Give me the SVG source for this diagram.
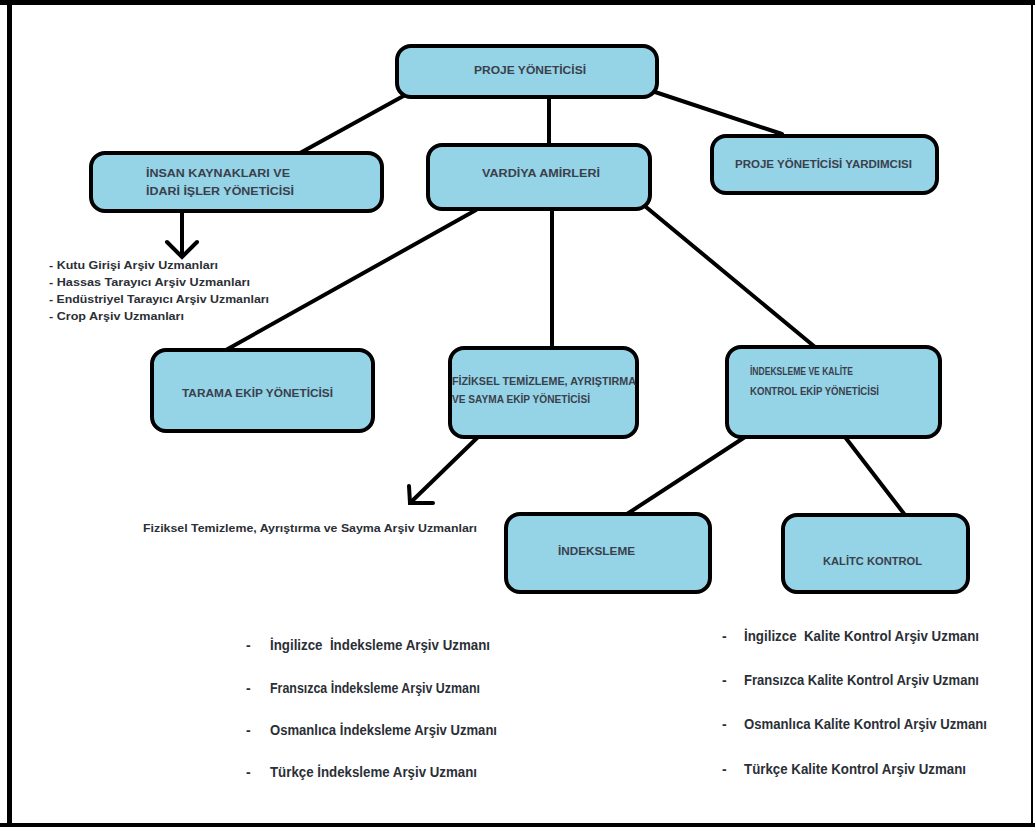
<svg xmlns="http://www.w3.org/2000/svg" width="1035" height="827" viewBox="0 0 1035 827">
<defs>
<style>
.box{fill:#95d3e6;stroke:#000;stroke-width:4}
.bt{font-family:"Liberation Sans",Arial,sans-serif;font-weight:bold;font-size:11px;fill:#3a404c}
.sm{font-family:"Liberation Sans",Arial,sans-serif;font-weight:bold;font-size:10px;fill:#2b2f36}
.li{font-family:"Liberation Sans",Arial,sans-serif;font-weight:bold;font-size:14px;fill:#2b2f36;white-space:pre}
.ln{stroke:#000;stroke-width:4;fill:none;stroke-linecap:round}
</style>
</defs>
<rect x="0" y="0" width="1035" height="827" fill="#fff"/>
<g id="frame">
<rect x="0" y="0" width="1035" height="5" fill="#000"/>
<rect x="7" y="0" width="5" height="827" fill="#000"/>
<rect x="0" y="823" width="1035" height="4" fill="#000"/>
<rect x="1031" y="0" width="2" height="827" fill="#000"/>
</g>
<g id="connectors">
<line class="ln" x1="407" y1="94" x2="300" y2="153"/>
<line class="ln" x1="549" y1="97" x2="549" y2="145"/>
<line class="ln" x1="655" y1="92" x2="782" y2="134"/>
<line class="ln" x1="476" y1="210" x2="226" y2="350"/>
<line class="ln" x1="552" y1="209" x2="552" y2="348"/>
<line class="ln" x1="646" y1="207" x2="815" y2="347"/>
<line class="ln" x1="182" y1="212" x2="182" y2="256"/>
<polyline class="ln" points="167,242 182,257 197,242"/>
<line class="ln" x1="478" y1="437" x2="410" y2="503"/>
<polyline class="ln" points="409,486 410,503 433,503"/>
<line class="ln" x1="745" y1="437" x2="627" y2="514"/>
<line class="ln" x1="845" y1="437" x2="905" y2="515"/>
</g>
<g id="n-proje">
<rect class="box" x="397" y="46" width="260" height="51" rx="14"/>
<text class="bt" x="474" y="74" textLength="112" lengthAdjust="spacingAndGlyphs">PROJE YÖNETİCİSİ</text>
</g>
<g id="n-insan">
<rect class="box" x="91" y="153" width="291" height="58" rx="14"/>
<text class="bt" x="146" y="177" textLength="144" lengthAdjust="spacingAndGlyphs">İNSAN KAYNAKLARI VE</text>
<text class="bt" x="146" y="195" textLength="148" lengthAdjust="spacingAndGlyphs">İDARİ İŞLER YÖNETİCİSİ</text>
</g>
<g id="n-vardiya">
<rect class="box" x="428" y="145" width="222" height="64" rx="14"/>
<text class="bt" x="482" y="177" textLength="118" lengthAdjust="spacingAndGlyphs">VARDİYA AMİRLERİ</text>
</g>
<g id="n-yardimci">
<rect class="box" x="712" y="136" width="225" height="57" rx="14"/>
<text class="bt" x="735" y="168" textLength="177" lengthAdjust="spacingAndGlyphs">PROJE YÖNETİCİSİ YARDIMCISI</text>
</g>
<g id="n-tarama">
<rect class="box" x="152" y="350" width="221" height="81" rx="14"/>
<text class="bt" x="182" y="397" textLength="151" lengthAdjust="spacingAndGlyphs">TARAMA EKİP YÖNETİCİSİ</text>
</g>
<g id="n-fiziksel">
<rect class="box" x="450" y="348" width="187" height="89" rx="14"/>
<text class="bt" x="452" y="385" textLength="184" lengthAdjust="spacingAndGlyphs">FİZİKSEL TEMİZLEME, AYRIŞTIRMA</text>
<text class="bt" x="452" y="403" textLength="138" lengthAdjust="spacingAndGlyphs">VE SAYMA EKİP YÖNETİCİSİ</text>
</g>
<g id="n-indkal">
<rect class="box" x="727" y="347" width="213" height="90" rx="14"/>
<text class="bt" x="750" y="375" textLength="103" lengthAdjust="spacingAndGlyphs">İNDEKSLEME VE KALİTE</text>
<text class="bt" x="750" y="395" textLength="129" lengthAdjust="spacingAndGlyphs">KONTROL EKİP YÖNETİCİSİ</text>
</g>
<g id="n-indeksleme">
<rect class="box" x="506" y="514" width="204" height="78" rx="14"/>
<text class="bt" x="558" y="555" textLength="77" lengthAdjust="spacingAndGlyphs">İNDEKSLEME</text>
</g>
<g id="n-kalite">
<rect class="box" x="783" y="515" width="185" height="77" rx="14"/>
<text class="bt" x="823" y="565" textLength="99" lengthAdjust="spacingAndGlyphs">KALİTC KONTROL</text>
</g>
<g id="list-insan">
<text class="sm" x="49" y="269" textLength="169" lengthAdjust="spacingAndGlyphs">- Kutu Girişi Arşiv Uzmanları</text>
<text class="sm" x="49" y="286" textLength="201" lengthAdjust="spacingAndGlyphs">- Hassas Tarayıcı Arşiv Uzmanları</text>
<text class="sm" x="49" y="303" textLength="220" lengthAdjust="spacingAndGlyphs">- Endüstriyel Tarayıcı Arşiv Uzmanları</text>
<text class="sm" x="49" y="320" textLength="135" lengthAdjust="spacingAndGlyphs">- Crop Arşiv Uzmanları</text>
</g>
<g id="list-fiziksel">
<text class="sm" x="143" y="532" textLength="334" lengthAdjust="spacingAndGlyphs">Fiziksel Temizleme, Ayrıştırma ve Sayma Arşiv Uzmanları</text>
</g>
<g id="list-indeksleme">
<text class="li" x="246" y="650">-</text>
<text class="li" x="270" y="650" textLength="220" lengthAdjust="spacingAndGlyphs" xml:space="preserve">İngilizce  İndeksleme Arşiv Uzmanı</text>
<text class="li" x="246" y="693">-</text>
<text class="li" x="270" y="693" textLength="210" lengthAdjust="spacingAndGlyphs">Fransızca İndeksleme Arşiv Uzmanı</text>
<text class="li" x="246" y="735">-</text>
<text class="li" x="270" y="735" textLength="227" lengthAdjust="spacingAndGlyphs">Osmanlıca İndeksleme Arşiv Uzmanı</text>
<text class="li" x="246" y="777">-</text>
<text class="li" x="270" y="777" textLength="207" lengthAdjust="spacingAndGlyphs">Türkçe İndeksleme Arşiv Uzmanı</text>
</g>
<g id="list-kalite">
<text class="li" x="722" y="641">-</text>
<text class="li" x="744" y="641" textLength="235" lengthAdjust="spacingAndGlyphs" xml:space="preserve">İngilizce  Kalite Kontrol Arşiv Uzmanı</text>
<text class="li" x="722" y="685">-</text>
<text class="li" x="744" y="685" textLength="235" lengthAdjust="spacingAndGlyphs">Fransızca Kalite Kontrol Arşiv Uzmanı</text>
<text class="li" x="722" y="729">-</text>
<text class="li" x="744" y="729" textLength="243" lengthAdjust="spacingAndGlyphs">Osmanlıca Kalite Kontrol Arşiv Uzmanı</text>
<text class="li" x="722" y="774">-</text>
<text class="li" x="744" y="774" textLength="222" lengthAdjust="spacingAndGlyphs">Türkçe Kalite Kontrol Arşiv Uzmanı</text>
</g>
</svg>
